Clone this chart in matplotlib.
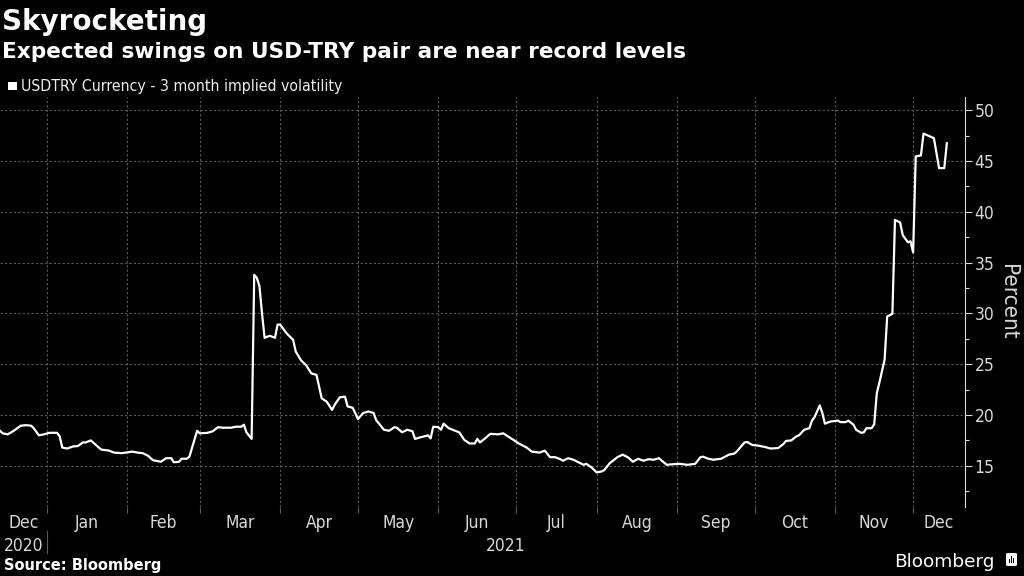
import matplotlib
matplotlib.use('Agg')
import matplotlib.pyplot as plt
import matplotlib.dates as mdates
import matplotlib.transforms as mtransforms
from matplotlib import font_manager
from matplotlib.patches import FancyBboxPatch, Rectangle
from matplotlib.ticker import MultipleLocator, FixedLocator, NullFormatter
import pandas as pd

# USDTRY 3 month implied volatility
dates = [
    '2020-12-14', '2020-12-15', '2020-12-17', '2020-12-19', '2020-12-22', '2020-12-24',
    '2020-12-26', '2020-12-27', '2020-12-29', '2020-12-31', '2021-01-02', '2021-01-05',
    '2021-01-06', '2021-01-07', '2021-01-09', '2021-01-11', '2021-01-13', '2021-01-15',
    '2021-01-16', '2021-01-18', '2021-01-20', '2021-01-22', '2021-01-25', '2021-01-27',
    '2021-01-30', '2021-02-03', '2021-02-05', '2021-02-07', '2021-02-09', '2021-02-11',
    '2021-02-14', '2021-02-16', '2021-02-18', '2021-02-19', '2021-02-21', '2021-02-22',
    '2021-02-24', '2021-02-25', '2021-02-26', '2021-02-28', '2021-03-01', '2021-03-04',
    '2021-03-06', '2021-03-08', '2021-03-10', '2021-03-13', '2021-03-15', '2021-03-17',
    '2021-03-18', '2021-03-19', '2021-03-21', '2021-03-22', '2021-03-23', '2021-03-24',
    '2021-03-25', '2021-03-26', '2021-03-28', '2021-03-30', '2021-03-31', '2021-04-01',
    '2021-04-03', '2021-04-04', '2021-04-06', '2021-04-07', '2021-04-09', '2021-04-11',
    '2021-04-13', '2021-04-15', '2021-04-17', '2021-04-19', '2021-04-21', '2021-04-22',
    '2021-04-24', '2021-04-26', '2021-04-27', '2021-04-29', '2021-05-01', '2021-05-03',
    '2021-05-05', '2021-05-07', '2021-05-08', '2021-05-11', '2021-05-13', '2021-05-15',
    '2021-05-16', '2021-05-18', '2021-05-20', '2021-05-22', '2021-05-23', '2021-05-25',
    '2021-05-28', '2021-05-29', '2021-05-30', '2021-06-01', '2021-06-02', '2021-06-03',
    '2021-06-05', '2021-06-09', '2021-06-11', '2021-06-13', '2021-06-15', '2021-06-16',
    '2021-06-17', '2021-06-19', '2021-06-21', '2021-06-24', '2021-06-26', '2021-06-29',
    '2021-07-02', '2021-07-05', '2021-07-07', '2021-07-10', '2021-07-12', '2021-07-14',
    '2021-07-16', '2021-07-18', '2021-07-19', '2021-07-21', '2021-07-23', '2021-07-25',
    '2021-07-27', '2021-07-28', '2021-07-30', '2021-08-01', '2021-08-03', '2021-08-04',
    '2021-08-06', '2021-08-09', '2021-08-11', '2021-08-13', '2021-08-15', '2021-08-17',
    '2021-08-19', '2021-08-21', '2021-08-23', '2021-08-25', '2021-08-28', '2021-08-30',
    '2021-09-02', '2021-09-05', '2021-09-08', '2021-09-10', '2021-09-11', '2021-09-13',
    '2021-09-15', '2021-09-18', '2021-09-21', '2021-09-23', '2021-09-24', '2021-09-27',
    '2021-09-28', '2021-09-30', '2021-10-02', '2021-10-05', '2021-10-07', '2021-10-10',
    '2021-10-12', '2021-10-13', '2021-10-15', '2021-10-17', '2021-10-18', '2021-10-20',
    '2021-10-22', '2021-10-23', '2021-10-24', '2021-10-26', '2021-10-27', '2021-10-28',
    '2021-10-30', '2021-11-02', '2021-11-03', '2021-11-05', '2021-11-06', '2021-11-08',
    '2021-11-09', '2021-11-11', '2021-11-12', '2021-11-13', '2021-11-15', '2021-11-16',
    '2021-11-17', '2021-11-18', '2021-11-20', '2021-11-21', '2021-11-23', '2021-11-24',
    '2021-11-26', '2021-11-27', '2021-11-29', '2021-11-30', '2021-12-01', '2021-12-02',
    '2021-12-04', '2021-12-05', '2021-12-09', '2021-12-11', '2021-12-13', '2021-12-14',
]
vol = [
    18.45, 18.2, 18.1, 18.4, 18.95, 19.0,
    18.95, 18.7, 18.0, 18.1, 18.25, 18.25,
    17.9, 16.8, 16.7, 16.9, 16.95, 17.3,
    17.3, 17.5, 17.05, 16.6, 16.5, 16.3,
    16.25, 16.4, 16.3, 16.25, 16.0, 15.55,
    15.4, 15.75, 15.75, 15.35, 15.4, 15.7,
    15.7, 15.9, 16.75, 18.45, 18.2, 18.25,
    18.4, 18.8, 18.75, 18.75, 18.85, 18.85,
    19.05, 18.3, 17.65, 33.8, 33.5, 32.7,
    30.0, 27.6, 27.8, 27.6, 28.9, 28.9,
    28.2, 27.9, 27.4, 26.25, 25.4, 24.9,
    24.1, 23.95, 21.65, 21.3, 20.5, 21.0,
    21.75, 21.8, 20.85, 20.7, 19.6, 20.2,
    20.35, 20.2, 19.5, 18.55, 18.45, 18.8,
    18.75, 18.3, 18.55, 18.4, 17.65, 17.8,
    18.0, 17.7, 18.85, 18.8, 18.55, 19.15,
    18.7, 18.3, 17.55, 17.2, 17.2, 17.65,
    17.3, 17.7, 18.15, 18.1, 18.2, 17.7,
    17.2, 16.8, 16.4, 16.3, 16.5, 15.85,
    15.85, 15.65, 15.5, 15.75, 15.6, 15.35,
    15.1, 15.2, 14.85, 14.35, 14.45, 14.6,
    15.25, 15.85, 16.1, 15.85, 15.4, 15.7,
    15.5, 15.65, 15.6, 15.75, 15.1, 15.15,
    15.2, 15.1, 15.2, 15.85, 15.9, 15.7,
    15.6, 15.7, 16.1, 16.2, 16.4, 17.3,
    17.35, 17.05, 17.0, 16.85, 16.7, 16.75,
    17.15, 17.45, 17.5, 17.9, 18.0, 18.55,
    18.7, 19.45, 19.8, 20.95, 20.2, 19.15,
    19.35, 19.45, 19.3, 19.3, 19.45, 19.05,
    18.55, 18.25, 18.3, 18.7, 18.7, 19.1,
    22.15, 23.2, 25.45, 29.7, 29.95, 39.2,
    38.95, 37.7, 37.0, 37.1, 36.0, 45.45,
    45.55, 47.7, 47.25, 44.3, 44.3, 46.75,
]

title = 'Skyrocketing'
subtitle = 'Expected swings on USD-TRY pair are near record levels'
series_name = 'USDTRY Currency - 3 month implied volatility'
y_ticks = [15, 20, 25, 30, 35, 40, 45, 50]

# look for a condensed face for the axis text, Roboto otherwise
narrow, stretch = 'Roboto', 'normal'
for f in font_manager.fontManager.ttflist:
    if 'Narrow' in f.name or 'Condensed' in f.name:
        narrow, stretch = f.name, f.stretch
        break
    if str(f.stretch) in ('condensed', 'semi-condensed', 'extra-condensed', '300', '400', '500'):
        narrow, stretch = f.name, f.stretch
        break
AX_FONT = dict(family=narrow, stretch=stretch)

BG = '#000000'
GRID = '#5a5a5a'
LABEL = '#d8d8d8'

x = pd.to_datetime(dates)
xmin = pd.Timestamp('2020-12-14')
xmax = pd.Timestamp('2021-12-21')

fig = plt.figure(figsize=(10.24, 5.76), dpi=100, facecolor=BG)
ax = fig.add_axes([0.0, 0.12, 0.9424, 0.7116], facecolor=BG)

ax.plot(x, vol, color='white', lw=1.6, solid_joinstyle='round', zorder=3)

ax.set_xlim(xmin, xmax)
ax.set_ylim(10.96, 51.3)

# y axis on the right
ax.yaxis.tick_right()
ax.yaxis.set_label_position('right')
ax.set_yticks(y_ticks)
ax.yaxis.set_minor_locator(MultipleLocator(2.5))
ax.tick_params(axis='y', which='major', length=5, width=0.8, color=LABEL,
               labelcolor=LABEL, labelsize=12.5, pad=2)
ax.tick_params(axis='y', which='minor', length=3, width=0.8, color=LABEL)
for lab in ax.get_yticklabels():
    lab.set(**AX_FONT)
ax.set_ylabel('Percent', rotation=-90, color=LABEL, fontsize=16,
              labelpad=17, **AX_FONT)

for s in ['top', 'left', 'bottom']:
    ax.spines[s].set_visible(False)
ax.spines['right'].set_color(LABEL)
ax.spines['right'].set_linewidth(0.8)

# x axis: ticks at month starts, labels in the middle of each visible month
month_starts = pd.date_range('2021-01-01', '2021-12-01', freq='MS')
ax.xaxis.set_major_locator(FixedLocator(mdates.date2num(month_starts)))
ax.xaxis.set_major_formatter(NullFormatter())
edges = [xmin] + list(month_starts) + [xmax]
mids = [a + (b - a) / 2 for a, b in zip(edges[:-1], edges[1:])]
ax.xaxis.set_minor_locator(FixedLocator(mdates.date2num(mids)))
ax.xaxis.set_minor_formatter(mdates.DateFormatter('%b'))
ax.tick_params(axis='x', which='major', length=4, width=0.8, color=GRID)
ax.tick_params(axis='x', which='minor', length=0, labelcolor=LABEL,
               labelsize=12.5, pad=5)
for lab in ax.get_xticklabels(minor=True):
    lab.set(**AX_FONT)

ax.grid(True, which='major', color=GRID, linestyle=(0, (2, 2)), linewidth=0.8)

# year row
trans = mtransforms.blended_transform_factory(ax.transData, ax.transAxes)
jan1 = pd.Timestamp('2021-01-01')
ax.text(xmin + (jan1 - xmin) / 2, -0.095, '2020', transform=trans, ha='center',
        va='center', color=LABEL, fontsize=12.5, **AX_FONT)
ax.text(jan1 + (xmax - jan1) / 2, -0.095, '2021', transform=trans, ha='center',
        va='center', color=LABEL, fontsize=12.5, **AX_FONT)
ax.plot([jan1, jan1], [-0.06, -0.112], transform=trans, color=GRID, lw=0.8,
        clip_on=False)

# titles and legend
fig.text(0.002, 0.962, title, color='white', fontsize=20, fontweight='bold',
         va='center', ha='left')
fig.text(0.002, 0.91, subtitle, color='white', fontsize=15.6, fontweight='bold',
         va='center', ha='left')
fig.patches.append(Rectangle((8 / 1024, 1 - 90 / 576), 9 / 1024, 8 / 576,
                             transform=fig.transFigure, facecolor='white',
                             edgecolor='none'))
fig.text(21 / 1024, 1 - 86 / 576, series_name, color='#eeeeee', fontsize=11.3,
         va='center', ha='left', **AX_FONT)

# footer
fig.text(0.004, 0.019, 'Source: Bloomberg', color='white', fontsize=10.5,
         fontweight='bold', va='center', ha='left')
fig.text(995 / 1024, 1 - 562 / 576, 'Bloomberg', color='white', fontsize=13.3,
         family='DejaVu Sans', va='center', ha='right')
fig.patches.append(FancyBboxPatch((1006 / 1024, 1 - 566 / 576), 11 / 1024, 13 / 576,
                                  boxstyle='round,pad=0,rounding_size=0.002',
                                  transform=fig.transFigure, facecolor='white',
                                  edgecolor='none'))
for i, h in enumerate([4, 7, 5]):
    fig.patches.append(Rectangle(((1008.5 + 2.2 * i) / 1024, 1 - 563 / 576),
                                 1.2 / 1024, h / 576, transform=fig.transFigure,
                                 facecolor='black', edgecolor='none'))

fig.savefig('out.png', dpi=100, facecolor=BG)
